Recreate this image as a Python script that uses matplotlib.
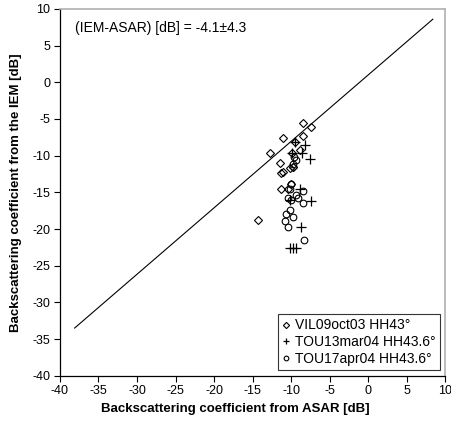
import matplotlib
matplotlib.use("Agg")
import matplotlib.pyplot as plt

plt.rcParams["font.family"] = ["Liberation Sans", "DejaVu Sans"]
plt.rcParams["axes.unicode_minus"] = False

# VIL09oct03 HH43 (diamonds)
vil_x = [-14.3, -12.7, -11.1, -8.4, -7.4, -8.4, -9.5, -8.8, -11.4, -10.2, -11.0,
         -9.7, -9.8, -11.3, -10.4, -10.0, -11.3, -9.9]
vil_y = [-18.8, -9.7, -7.6, -5.5, -6.1, -7.3, -8.2, -9.2, -11.0, -11.7, -12.2,
         -11.5, -11.6, -14.5, -14.6, -13.9, -12.4, -9.7]

# TOU13mar04 HH43.6 (plus)
tou1_x = [-9.5, -8.2, -9.9, -8.6, -7.5, -8.8, -10.2, -7.4, -8.7, -10.1, -9.7, -9.3]
tou1_y = [-8.2, -8.6, -9.7, -9.7, -10.5, -14.5, -16.1, -16.2, -19.7, -22.6, -22.6, -22.6]

# TOU17apr04 HH43.6 (circles)
tou2_x = [-9.7, -9.3, -10.2, -8.5, -9.3, -10.4, -10.0, -9.1, -8.4, -10.2, -10.6,
          -9.7, -10.8, -10.4, -8.3, -10.0, -9.6]
tou2_y = [-11.1, -10.6, -14.6, -14.8, -15.3, -15.8, -16.1, -15.8, -16.4, -17.4, -18.0,
          -18.3, -18.9, -19.7, -21.5, -13.9, -10.2]

# fitted line end points
line_x = [-38.1, 8.4]
line_y = [-33.5, 8.6]


def main():
    fig = plt.figure(figsize=(4.51, 4.26), dpi=100)
    ax = fig.add_axes([0.133, 0.118, 0.854, 0.861])

    ax.plot(line_x, line_y, color="black", lw=0.8)

    ax.plot(vil_x, vil_y, linestyle="none", marker="D", ms=4.5, mfc="none",
            mec="black", mew=0.8, label="VIL09oct03 HH43°")
    ax.plot(tou1_x, tou1_y, linestyle="none", marker="+", ms=6.5,
            color="black", mew=0.9, label="TOU13mar04 HH43.6°")
    ax.plot(tou2_x, tou2_y, linestyle="none", marker="o", ms=4.8, mfc="none",
            mec="black", mew=0.8, label="TOU17apr04 HH43.6°")

    ax.set_xlim(-40, 10)
    ax.set_ylim(-40, 10)
    ax.set_xticks(range(-40, 11, 5))
    ax.set_yticks(range(-40, 11, 5))
    ax.tick_params(direction="out", length=4, width=0.8, labelsize=9, pad=3)

    for side in ["top", "right"]:
        ax.spines[side].set_color("#b0b0b0")
        ax.spines[side].set_linewidth(1.2)
    for side in ["left", "bottom"]:
        ax.spines[side].set_linewidth(0.9)

    ax.set_xlabel("Backscattering coefficient from ASAR [dB]",
                  fontsize=9.5, fontweight="bold")
    ax.xaxis.set_label_coords(0.455, -0.075)
    ax.set_ylabel("Backscattering coefficient from the IEM [dB]",
                  fontsize=9.5, fontweight="bold")
    ax.yaxis.set_label_coords(-0.098, 0.5)

    ax.text(-38.05, 7.4, "(IEM-ASAR) [dB] = -4.1±4.3", fontsize=10,
            ha="left", va="center")

    leg = ax.legend(loc="lower right", fontsize=10, frameon=True,
                    fancybox=False, edgecolor="black", handlelength=0.6,
                    handletextpad=0.3, borderpad=0.3, labelspacing=0.2,
                    borderaxespad=0.4, markerscale=0.7)
    leg.get_frame().set_linewidth(0.8)

    fig.savefig("out.png", dpi=100)


if __name__ == "__main__":
    main()
